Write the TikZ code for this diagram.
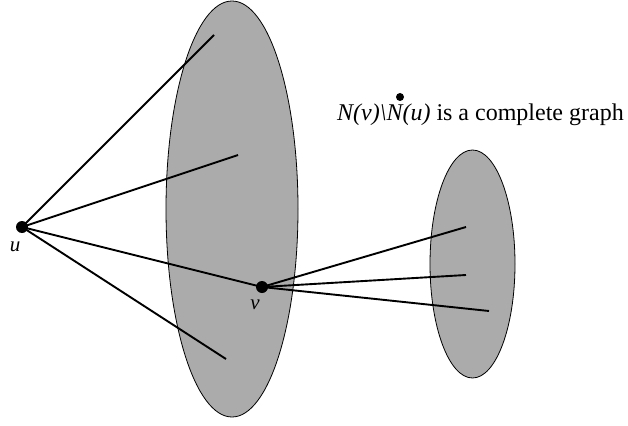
\documentclass[tikz,border=0pt]{standalone}
\usepackage{fontspec}
\setmainfont{Liberation Serif}
\begin{document}
\begin{tikzpicture}[x=1pt,y=-1pt,
	vert/.style={circle,fill=black,inner sep=0pt,minimum size=12pt},
	edge/.style={line width=1.9pt},
	blob/.style={fill=black!33,draw=black,line width=0.8pt},
	lab/.style={font=\fontsize{21}{24}\selectfont\itshape,inner sep=0pt}]
	\useasboundingbox (0,0) rectangle (628,425);
	\draw[blob] (232,209) ellipse (66 and 208);
	\draw[blob] (472.5,264) ellipse (42.5 and 114);
	\node[vert] (u) at (22,227) {};
	\node[vert] (v) at (262,287) {};
	\coordinate (a1) at (214,35);
	\coordinate (a2) at (238,155);
	\coordinate (a3) at (226,359);
	\coordinate (b1) at (466,227);
	\coordinate (b2) at (466,275);
	\coordinate (b3) at (489,311);
	\draw[edge] (u.center) -- (a1);
	\draw[edge] (u.center) -- (a2);
	\draw[edge] (u.center) -- (v.center);
	\draw[edge] (u.center) -- (a3);
	\draw[edge] (v.center) -- (b1);
	\draw[edge] (v.center) -- (b2);
	\draw[edge] (v.center) -- (b3);
	\node[lab] (ulab) at (15,247) {u};
	\node[lab] (vlab) at (255,305) {v};
	\node[font=\fontsize{24}{28}\selectfont,inner sep=0pt,anchor=base west] (note) at (337,121)
		{\textit{N(v)\textbackslash N(u)} is a complete graph};
	\node[vert,minimum size=8pt] (mark) at (400,97) {};
\end{tikzpicture}
\end{document}
